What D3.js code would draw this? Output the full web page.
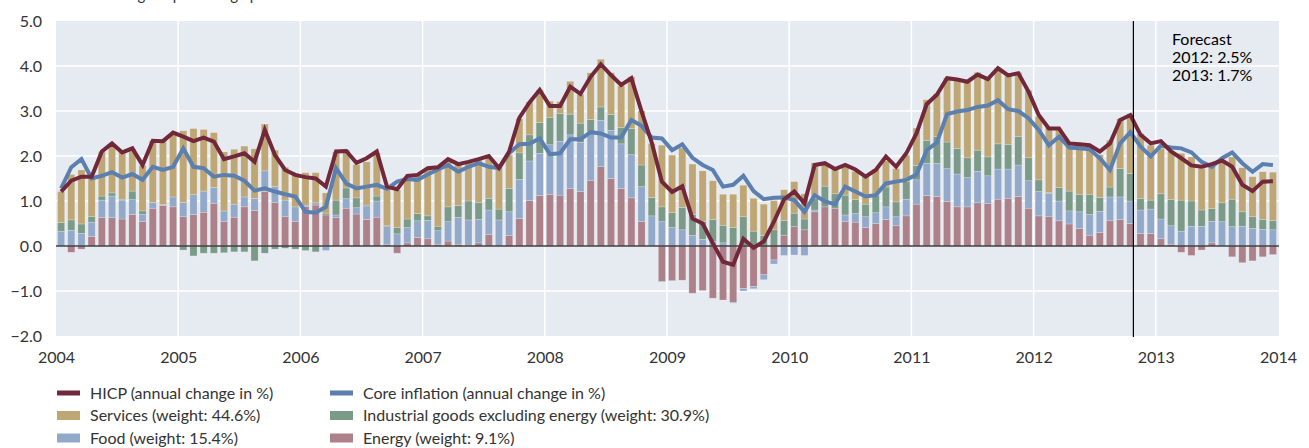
<!DOCTYPE html>
<html><head><meta charset="utf-8">
<script src="https://cdn.jsdelivr.net/npm/d3@7"></script>
<style>
body{margin:0;background:#fff;}
svg text{font-family:Lato,"Open Sans","Noto Sans",sans-serif;}
</style>
</head><body>
<svg id="chart" width="1309" height="448"></svg>
<script>
// ---- data (monthly, Jan 2004 – Dec 2013) ----
const years = [2004,2005,2006,2007,2008,2009,2010,2011,2012,2013,2014];
const yTicks = [-2,-1,0,1,2,3,4,5];

const energy = [
 0.00,-0.14,-0.07,0.21,0.63,0.63,0.60,0.70,0.54,0.84,0.90,0.87,
 0.65,0.70,0.75,0.95,0.54,0.64,0.87,0.79,1.21,0.97,0.65,0.54,
 0.88,0.91,0.69,0.63,0.84,0.71,0.59,0.64,0.04,-0.16,0.07,0.19,
 0.16,0.04,0.11,0.04,0.02,0.07,0.26,0.00,0.23,0.61,1.01,1.12,
 1.15,1.13,1.28,1.21,1.45,1.77,1.50,1.28,1.07,0.54,0.00,-0.79,
 -0.77,-0.76,-1.05,-0.99,-1.16,-1.20,-1.25,-0.94,-0.90,-0.64,-0.31,0.24,
 0.43,0.36,0.76,0.87,0.84,0.54,0.53,0.41,0.50,0.59,0.45,0.67,
 0.93,1.12,1.10,0.99,0.87,0.87,0.96,0.95,1.04,1.06,1.10,0.84,
 0.67,0.65,0.56,0.49,0.39,0.24,0.30,0.56,0.59,0.50,0.28,0.28,
 0.16,0.04,-0.14,-0.21,-0.09,0.07,0.00,-0.24,-0.37,-0.33,-0.24,-0.19
];
const food = [
 0.33,0.35,0.28,0.32,0.39,0.48,0.42,0.33,0.16,0.13,0.02,0.22,
 0.32,0.44,0.47,0.35,0.24,0.29,0.22,0.27,0.46,0.35,0.37,0.33,
 0.03,0.05,-0.10,0.06,0.21,0.14,0.30,0.36,0.39,0.27,0.34,0.37,
 0.41,0.30,0.43,0.60,0.56,0.52,0.54,0.58,0.53,0.87,0.88,0.94,
 1.10,1.20,1.19,1.09,1.09,1.02,1.07,0.99,0.96,0.78,0.67,0.54,
 0.41,0.36,0.24,0.15,0.10,0.07,-0.02,-0.06,-0.05,-0.11,-0.09,-0.21,
 -0.20,-0.21,0.04,0.00,0.00,0.15,0.19,0.24,0.24,0.28,0.20,0.37,
 0.54,0.72,0.74,0.73,0.73,0.65,0.70,0.61,0.67,0.65,0.70,0.61,
 0.54,0.52,0.44,0.29,0.37,0.46,0.47,0.53,0.50,0.50,0.52,0.54,
 0.44,0.41,0.33,0.44,0.44,0.48,0.54,0.43,0.44,0.39,0.37,0.36
];
const industrial = [
 0.19,0.23,0.21,0.13,0.09,0.07,0.02,0.19,0.08,0.00,0.00,0.00,
 -0.09,-0.22,-0.16,-0.16,-0.15,-0.13,-0.13,-0.33,-0.16,-0.07,-0.05,-0.07,
 -0.10,-0.13,0.04,0.33,0.24,0.22,0.02,0.11,0.02,0.14,0.19,0.16,
 0.10,0.10,0.33,0.26,0.42,0.37,0.26,0.24,0.52,0.59,0.58,0.68,
 0.61,0.61,0.46,0.43,0.27,0.30,0.35,0.36,0.58,0.48,0.41,0.33,
 0.33,0.50,0.46,0.39,0.49,0.39,0.41,0.65,0.33,0.23,0.36,0.33,
 0.30,0.24,0.26,0.46,0.32,0.44,0.31,0.28,0.39,0.44,0.33,0.39,
 0.32,0.50,0.59,0.59,0.57,0.44,0.47,0.42,0.56,0.55,0.63,0.51,
 0.26,0.02,0.30,0.44,0.39,0.45,0.31,0.22,0.63,0.61,0.26,0.20,
 0.56,0.58,0.69,0.56,0.36,0.28,0.42,0.61,0.32,0.26,0.22,0.21
];
const services = [
 0.69,1.01,1.20,0.85,0.99,1.04,1.05,0.94,1.01,1.37,1.42,1.41,
 1.59,1.47,1.37,1.22,1.31,1.22,1.13,1.10,1.04,0.81,0.73,0.74,
 0.72,0.67,0.45,1.07,0.85,0.74,0.96,0.96,0.83,0.84,0.94,0.88,
 1.04,1.33,1.04,0.94,0.87,0.97,0.90,0.93,0.74,0.76,0.73,0.73,
 0.36,0.27,0.73,0.64,1.04,1.06,0.93,0.93,1.15,1.20,1.20,1.37,
 1.28,1.32,1.12,1.13,0.86,0.69,0.74,0.70,0.73,0.70,0.65,0.68,
 0.70,0.56,0.79,0.50,0.57,0.63,0.63,0.61,0.58,0.59,0.74,0.59,
 0.83,0.91,0.96,1.43,1.53,1.68,1.73,1.74,1.68,1.52,1.43,1.50,
 1.41,1.46,1.28,1.02,1.09,1.09,0.95,1.04,1.11,1.33,1.44,1.22,
 1.01,1.07,1.04,0.98,0.93,1.00,0.91,0.94,0.98,0.89,1.06,1.07
];
const hicp = [
 1.21,1.45,1.54,1.54,2.10,2.28,2.08,2.17,1.80,2.34,2.33,2.52,
 2.43,2.33,2.41,2.32,1.93,1.99,2.06,1.87,2.58,2.02,1.69,1.58,
 1.53,1.50,1.32,2.10,2.11,1.85,1.95,2.10,1.32,1.26,1.56,1.58,
 1.73,1.75,1.93,1.82,1.87,1.93,2.00,1.73,2.10,2.85,3.19,3.47,
 3.11,3.11,3.54,3.38,3.76,4.04,3.80,3.58,3.73,2.99,2.30,1.43,
 1.20,1.33,0.61,0.50,0.06,-0.35,-0.42,0.16,-0.04,0.10,0.54,1.04,
 1.21,0.95,1.80,1.84,1.71,1.80,1.70,1.54,1.69,1.99,1.76,2.06,
 2.50,3.15,3.36,3.73,3.70,3.65,3.81,3.71,3.95,3.79,3.84,3.43,
 2.91,2.61,2.61,2.28,2.26,2.24,2.10,2.28,2.80,2.91,2.47,2.28,
 2.33,2.10,1.95,1.79,1.76,1.82,1.90,1.76,1.36,1.22,1.43,1.44
];
const core = [
 1.28,1.75,1.93,1.50,1.56,1.64,1.52,1.60,1.47,1.76,1.69,1.76,
 2.17,1.76,1.73,1.54,1.58,1.56,1.45,1.23,1.28,1.21,1.15,1.10,
 0.76,0.74,0.87,1.73,1.39,1.28,1.32,1.36,1.27,1.43,1.49,1.47,
 1.59,1.70,1.80,1.65,1.76,1.84,1.76,1.73,2.06,2.26,2.27,2.39,
 2.04,2.06,2.37,2.37,2.53,2.50,2.41,2.41,2.80,2.67,2.41,2.39,
 2.13,2.26,1.96,1.80,1.69,1.32,1.36,1.56,1.22,1.04,1.07,1.08,
 1.02,0.76,1.13,0.99,0.93,1.32,1.21,1.10,1.13,1.39,1.43,1.47,
 1.59,2.13,2.30,2.93,2.99,3.02,3.09,3.12,3.24,3.04,3.00,2.84,
 2.58,2.24,2.43,2.19,2.17,2.15,1.95,1.69,2.28,2.53,2.21,1.99,
 2.23,2.19,2.17,2.08,1.87,1.76,1.95,2.08,1.84,1.65,1.82,1.80
];
const forecastMonth = 105.8;   // position of the forecast divider (months since Jan 2004)
const forecastLines = ["Forecast","2012: 2.5%","2013: 1.7%"];
const topNote = "Annual change in percentage points";

const seriesKeys = ["energy","food","industrial","services"];
const seriesColors = {energy:"#ad818a", food:"#93a9c9", industrial:"#7b9a88", services:"#bea774"};
const legendItems = [
  {label:"HICP (annual change in %)", type:"line", color:"#71283a"},
  {label:"Core inflation (annual change in %)", type:"line", color:"#5b7fae"},
  {label:"Services (weight: 44.6%)", type:"rect", color:seriesColors.services},
  {label:"Industrial goods excluding energy (weight: 30.9%)", type:"rect", color:seriesColors.industrial},
  {label:"Food (weight: 15.4%)", type:"rect", color:seriesColors.food},
  {label:"Energy (weight: 9.1%)", type:"rect", color:seriesColors.energy}
];

// ---- chart ----
const svg = d3.select("#chart");
const L = 56, R = 1279, T = 21, B = 336;
const nMonths = hicp.length;
const x = d3.scaleLinear().domain([0, nMonths]).range([L, 1278]);
const y = d3.scaleLinear().domain([-2, 5]).range([B, T]);

// header note, cut at the top edge as in the reference
svg.append("text").attr("x", 56).attr("y", 0).attr("font-size", 15).attr("fill", "#333").text(topNote);

svg.append("rect").attr("x", L).attr("y", T).attr("width", R - L).attr("height", B - T).attr("fill", "#e6eaf1");

// gridlines
svg.append("g").selectAll("line").data(yTicks.filter(d => d > -2 && d < 5)).join("line")
  .attr("x1", L).attr("x2", R).attr("y1", d => y(d)).attr("y2", d => y(d))
  .attr("stroke", "#fff").attr("stroke-width", 1.5);
svg.append("g").selectAll("line").data(d3.range(12, nMonths, 12)).join("line")
  .attr("x1", d => x(d)).attr("x2", d => x(d)).attr("y1", T).attr("y2", B)
  .attr("stroke", "#fff").attr("stroke-width", 1.5);

// stacked bars
const rows = d3.range(nMonths).map(i => ({i, energy: energy[i], food: food[i], industrial: industrial[i], services: services[i]}));
const stack = d3.stack().keys(seriesKeys).offset(d3.stackOffsetDiverging)(rows);
svg.append("g").selectAll("g").data(stack).join("g")
  .attr("fill", d => seriesColors[d.key])
  .selectAll("rect").data(d => d).join("rect")
  .attr("x", d => x(d.data.i + 0.15))
  .attr("width", d => x(d.data.i + 0.85) - x(d.data.i + 0.15))
  .attr("y", d => y(Math.max(d[0], d[1])))
  .attr("height", d => Math.abs(y(d[0]) - y(d[1])))
  .attr("stroke", "rgba(255,255,255,0.35)").attr("stroke-width", 0.6);

// zero line
svg.append("line").attr("x1", L).attr("x2", R).attr("y1", y(0)).attr("y2", y(0))
  .attr("stroke", "#3c3c3c").attr("stroke-width", 1.5);

// lines
const line = d3.line().x((d, i) => x(i + 0.5)).y(d => y(d));
svg.append("path").datum(core).attr("d", line).attr("fill", "none")
  .attr("stroke", "#5b7fae").attr("stroke-width", 4).attr("stroke-linejoin", "miter");
svg.append("path").datum(hicp).attr("d", line).attr("fill", "none")
  .attr("stroke", "#71283a").attr("stroke-width", 4).attr("stroke-linejoin", "miter");

// forecast divider
svg.append("line").attr("x1", x(forecastMonth)).attr("x2", x(forecastMonth)).attr("y1", T).attr("y2", B + 1)
  .attr("stroke", "#000").attr("stroke-width", 1.2);
svg.append("g").selectAll("text").data(forecastLines).join("text")
  .attr("x", 1172).attr("y", (d, i) => 45 + i * 18)
  .attr("font-size", 16).attr("fill", "#000").text(d => d);

// axes
const yAxis = svg.append("g").attr("transform", `translate(${L},0)`)
  .call(d3.axisLeft(y).tickValues(yTicks).tickSize(0).tickPadding(14).tickFormat(d3.format(".1f")));
yAxis.select(".domain").remove();
yAxis.selectAll("text").attr("font-size", 16).attr("fill", "#333").style("font-family", "Lato");

const xAxis = svg.append("g").attr("transform", `translate(0,${B})`)
  .call(d3.axisBottom(x).tickValues(d3.range(0, nMonths + 1, 12)).tickSize(0).tickPadding(16)
    .tickFormat(d => years[d / 12]));
xAxis.select(".domain").remove();
xAxis.selectAll("text").attr("font-size", 16).attr("fill", "#333").style("font-family", "Lato");

// legend
const lg = svg.append("g").selectAll("g").data(legendItems).join("g")
  .attr("transform", (d, i) => `translate(${i % 2 === 0 ? 57 : 330},${393 + Math.floor(i / 2) * 22.5})`);
lg.filter(d => d.type === "line").append("rect").attr("x", 0).attr("y", -2.5).attr("width", 23).attr("height", 5).attr("fill", d => d.color);
lg.filter(d => d.type === "rect").append("rect").attr("x", 0).attr("y", -4.5).attr("width", 23).attr("height", 9).attr("fill", d => d.color);
lg.append("text").attr("x", 33).attr("y", 0).attr("dy", "0.35em").attr("font-size", 16).attr("fill", "#333").text(d => d.label);
</script>
</body></html>
